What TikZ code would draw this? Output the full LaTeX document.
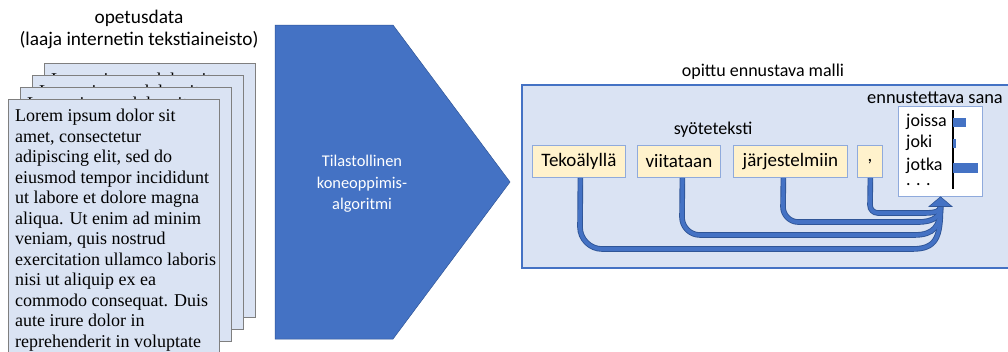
\documentclass[tikz,border=0pt]{standalone}
\usepackage{fontspec}
\setmainfont{Carlito}
\newfontfamily\loremfont{Liberation Serif}
\definecolor{blueA}{HTML}{4472C4}
\definecolor{blueD}{HTML}{2F5597}
\definecolor{paleblue}{HTML}{DAE3F3}
\definecolor{wordfill}{HTML}{FFF2CC}
\definecolor{wordline}{HTML}{8FAADC}
\definecolor{pageline}{HTML}{7F7F7F}
\begin{document}
\begin{tikzpicture}[x=1pt,y=-1pt,
  lbl/.style={font=\fontsize{18}{22}\selectfont, inner sep=0pt},
  wordbox/.style={draw=wordline, fill=wordfill, line width=0.8pt, font=\fontsize{19}{22}\selectfont, minimum height=32pt, inner sep=0pt, anchor=north west},
  flowout/.style={draw=blueD, line width=5.6pt, line cap=butt},
  flowin/.style={draw=blueA, line width=3.8pt, line cap=butt},
  pagebox/.style={draw=pageline, fill=paleblue, line width=0.8pt},
  loremtxt/.style={font=\loremfont\fontsize{18}{20.5}\selectfont, align=left, inner sep=0pt, anchor=north west}
]
\useasboundingbox (0,0) rectangle (1008,351);
\fill[white] (0,0) rectangle (1008,351);

% title of training data
\node[lbl, font=\fontsize{19.3}{22}\selectfont] (t1) at (139,18) {opetusdata};
\node[lbl, font=\fontsize{19.3}{22}\selectfont] (t2) at (139,40) {(laaja internetin tekstiaineisto)};

% stack of pages (back pages only show their first line)
\foreach \x/\y/\n in {44/63/p3, 32/75/p2, 20/87/p1}{
  \draw[pagebox] (\x,\y) rectangle ++(211,254);
  \begin{scope}
    \clip (\x,\y) rectangle ++(211,254);
    \node[loremtxt] (\n) at (\x+7,\y+10) {Lorem ipsum dolor sit};
  \end{scope}
}
\draw[pagebox] (8,99) rectangle ++(211,260);
\node[loremtxt] (p0) at (15,109) {Lorem ipsum dolor sit\\amet, consectetur\\adipiscing elit, sed do\\eiusmod tempor incididunt\\ut labore et dolore magna\\aliqua. Ut enim ad minim\\veniam, quis nostrud\\exercitation ullamco laboris\\nisi ut aliquip ex ea\\commodo consequat. Duis\\aute irure dolor in\\reprehenderit in voluptate};

% chevron (algorithm)
\fill[blueA] (275,25) -- (393,25) -- (510,182) -- (393,339) -- (275,339) -- cycle;
\draw[blueD, line width=0.5pt] (275,25) -- (393,25) -- (510,182) -- (393,339) -- (275,339) -- cycle;
\node[lbl, text=white, align=center, font=\fontsize{16.4}{21.7}\selectfont] (alg) at (362,184) {Tilastollinen\\koneoppimis-\\algoritmi};

% model panel
\node[lbl] (mtitle) at (763,72) {opittu ennustava malli};
\draw[blueA, fill=paleblue, line width=1.5pt] (522,85) rectangle (1012,268);

\node[lbl] (inlbl) at (713,130) {syöteteksti};
\node[wordbox, minimum width=93pt] (w1) at (532,145) {Tekoälyllä};
\node[wordbox, minimum width=83pt] (w2) at (637,145) {viitataan};
\node[wordbox, minimum width=114pt] (w3) at (733,145) {järjestelmiin};
\node[wordbox, minimum width=25pt] (w4) at (857,145) {,};

% output distribution
\node[lbl, font=\fontsize{18.4}{22}\selectfont] (outlbl) at (935,98) {ennustettava sana};
\node[draw=wordline, fill=white, line width=0.8pt, minimum width=84pt, minimum height=90pt, inner sep=0pt, anchor=north west] (out) at (898,106) {};
\node[lbl, anchor=west] (c1) at (906,122) {joissa};
\node[lbl, anchor=west] (c2) at (906,143) {joki};
\node[lbl, anchor=west] (c3) at (906,166) {jotka};
\node[lbl, anchor=west] (c4) at (906,185) {. . .};
\draw[black, line width=1.3pt] (953,110) -- (953,189);
\fill[blueA] (953,118) rectangle (966,127);
\fill[blueA] (953,139) rectangle (955.5,148);
\fill[blueA] (953,163) rectangle (978,173);

% connectors
\coordinate (ab) at (940.5,207);
\coordinate (tip) at (out.south -| ab);
\foreach \s in {flowout, flowin}{
  \draw[\s] ([xshift=1.5pt]w1.south) -- (580,227) .. controls (580,239) and (590,249) .. (602,249) -- (912,249) .. controls (936,249) and (940.5,238) .. (ab);
  \draw[\s] ([xshift=3.5pt]w2.south) -- (682,217) .. controls (682,227) and (690,235) .. (700,235) -- (914,235) .. controls (934,235) and (940.5,226) .. (ab);
  \draw[\s] ([xshift=-7pt]w3.south) -- (783,207) .. controls (783,215) and (790,222) .. (798,222) -- (918,222) .. controls (934,222) and (940.5,216) .. (ab);
  \draw[\s] ([xshift=0.5pt]w4.south) -- (870,205) .. controls (870,209.5) and (873.5,213) .. (878,213) -- (924,213) .. controls (936,213) and (940.5,211) .. (ab);
}
\draw[blueD, fill=blueA, line width=0.6pt] (929,206.5) -- (tip) -- (952,206.5) -- cycle;
\end{tikzpicture}
\end{document}
